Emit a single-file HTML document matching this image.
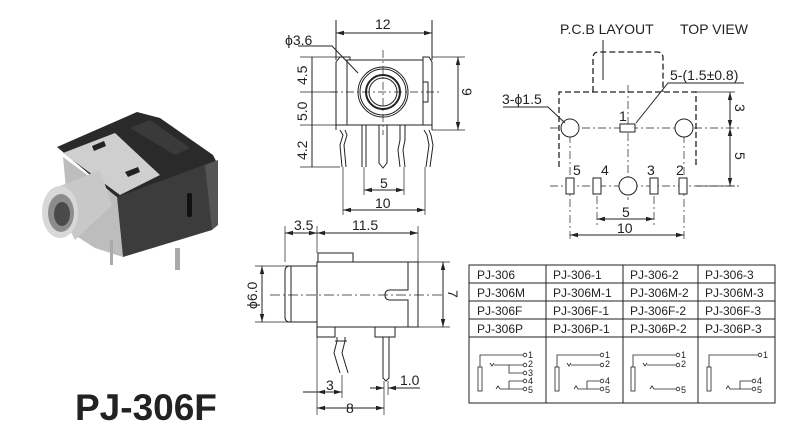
<!DOCTYPE html>
<html><head><meta charset="utf-8"><style>
html,body{margin:0;padding:0;background:#fff;}
svg{display:block;}
text{font-family:"Liberation Sans Narrow","Liberation Sans",sans-serif;fill:#222;}
</style></head><body>
<svg width="800" height="424" viewBox="0 0 800 424" xmlns="http://www.w3.org/2000/svg">
<defs>
<marker id="a" markerWidth="8" markerHeight="6" refX="8" refY="3" orient="auto-start-reverse" markerUnits="userSpaceOnUse"><path d="M0,0.8 L8,3 L0,5.2z" fill="#222"/></marker>
</defs>
<g stroke="#222" fill="none" stroke-width="1">

<!-- PHOTO -->
<g stroke="none">
<polygon points="57,147 137,112 160,118 213,155 218,165 120,200" fill="#2a2a2a"/>
<polygon points="63,153 115,133 160,175 120,195" fill="#cfcfcf"/>
<polygon points="92,146 104,141 106,146 94,151" fill="#222"/>
<polygon points="125,172 138,167 140,172 128,177" fill="#222"/>
<polygon points="130,128 150,120 190,148 175,155" fill="#3a3a3a"/>
<polygon points="63,157 117,197 123,257 95,248 70,232" fill="#bdbdbd"/>
<polygon points="117,197 212,162 212,230 123,257" fill="#3c3c3c"/>
<polygon points="205,165 218,160 218,225 212,230" fill="#555"/>
<rect x="187" y="193" width="5" height="24" rx="2" fill="#111"/>
<polygon points="50,190 100,170 112,205 75,240" fill="#c8c8c8"/>
<ellipse cx="60" cy="212" rx="18" ry="26" fill="#d8d8d8"/>
<ellipse cx="61" cy="213" rx="13" ry="19" fill="#8c8c8c"/>
<ellipse cx="62" cy="214" rx="8" ry="12" fill="#4a4a4a"/>
<rect x="110" y="240" width="3" height="25" fill="#aaa"/>
<rect x="175" y="248" width="5" height="22" fill="#aaa"/>
</g>
<text x="75" y="420" style="font-family:'Liberation Sans',sans-serif;font-weight:bold;font-size:37px" stroke="none">PJ-306F</text>

<!-- FRONT VIEW -->
<line x1="336" y1="20" x2="336" y2="60"/><line x1="432" y1="20" x2="432" y2="60"/>
<line x1="336" y1="33" x2="432" y2="33" marker-start="url(#a)" marker-end="url(#a)"/>
<path d="M336,130 V62 l4,-5 h10 v3 M423,60 v-3 h6 l3,5 V130 M336,125 H347 M423,125 H432"/>
<rect x="347" y="60" width="76" height="65"/>
<path d="M423,82 h5 v20 h-5"/>
<circle cx="383" cy="92" r="25"/><circle cx="383" cy="92" r="23"/>
<circle cx="383" cy="92" r="17" stroke-width="2"/><circle cx="383" cy="92" r="14"/>
<g stroke-dasharray="8,3,2,3" stroke-width="0.7"><line x1="330" y1="92" x2="440" y2="92"/><line x1="383" y1="50" x2="383" y2="135"/></g>
<path d="M340,130 l3,5 l-3,10 l2,22 M345,130 l2,5 l-3,10 l2,22"/>
<path d="M362,125 v42 M366,125 v42 M379,125 v38 l4,5 l4,-5 v-38 M400,125 v15 l-2,10 l2,17 M405,125 v15 l-2,10 l2,17"/>
<path d="M424,130 l3,5 l2,10 l-3,22 M429,130 l2,5 l2,10 l-3,22"/>
<path d="M300,57 H340 M300,92 H336 M300,125 H340 M300,167 H340" stroke-width="0.7"/>
<line x1="312" y1="57" x2="312" y2="167"/>
<path d="M432,57 H465 M432,130 H465" stroke-width="0.7"/>
<line x1="458" y1="57" x2="458" y2="130" marker-start="url(#a)" marker-end="url(#a)"/>
<path d="M364,167 V195 M404,167 V195 M343,167 V215 M425,167 V215" stroke-width="0.7"/>
<line x1="364" y1="190" x2="404" y2="190" marker-start="url(#a)" marker-end="url(#a)"/>
<line x1="343" y1="210" x2="425" y2="210" marker-start="url(#a)" marker-end="url(#a)"/>
<path d="M298,46 H332 L358,73"/>

<!-- TOP VIEW -->
<line x1="603" y1="40" x2="603" y2="80"/>
<g stroke-dasharray="6,3" stroke-width="1.3">
<path d="M593,92 V58 q0,-6 6,-6 H657 q6,0 6,6 V92"/>
<path d="M559,167 V92 H696 V167"/>
</g>
<g stroke-dasharray="8,3,2,3" stroke-width="0.7">
<line x1="550" y1="128" x2="740" y2="128"/><line x1="550" y1="186" x2="740" y2="186"/>
<line x1="628" y1="85" x2="628" y2="200"/><line x1="570" y1="135" x2="570" y2="240"/><line x1="684" y1="135" x2="684" y2="240"/>
<line x1="597" y1="180" x2="597" y2="225"/><line x1="654" y1="180" x2="654" y2="225"/>
</g>
<circle cx="570" cy="128" r="9" fill="#fff"/><circle cx="684" cy="128" r="9" fill="#fff"/><circle cx="628" cy="186" r="9" fill="#fff"/>
<rect x="620" y="124" width="15" height="8" fill="#fff"/>
<rect x="566" y="178" width="8" height="16" fill="#fff"/><rect x="593" y="178" width="8" height="16" fill="#fff"/>
<rect x="650" y="178" width="8" height="16" fill="#fff"/><rect x="679" y="178" width="8" height="16" fill="#fff"/>
<path d="M503,107 H548 L565,123"/>
<path d="M744,83 H668 L636,123"/>
<path d="M696,92 H735 M696,186 H735" stroke-width="0.7"/>
<line x1="730" y1="92" x2="730" y2="128" marker-start="url(#a)" marker-end="url(#a)"/>
<line x1="730" y1="128" x2="730" y2="186" marker-start="url(#a)" marker-end="url(#a)"/>
<line x1="597" y1="219" x2="654" y2="219" marker-start="url(#a)" marker-end="url(#a)"/>
<line x1="570" y1="235" x2="684" y2="235" marker-start="url(#a)" marker-end="url(#a)"/>

<!-- SIDE VIEW -->
<path d="M285,226 V262 M317,226 V253 M418,226 V262" stroke-width="0.7"/>
<line x1="285" y1="233" x2="317" y2="233" marker-start="url(#a)" marker-end="url(#a)"/>
<line x1="317" y1="233" x2="418" y2="233" marker-start="url(#a)" marker-end="url(#a)"/>
<rect x="318" y="253" width="35" height="9"/>
<rect x="317" y="262" width="101" height="65"/>
<path d="M408,262 V290 H390 q-5,0 -5,5 q0,5 5,5 H408 V327"/>
<path d="M317,266 H290 q-5,0 -5,5 V317 q0,5 5,5 H317 M291,266 V322"/>
<line x1="270" y1="295" x2="445" y2="295" stroke-dasharray="10,3,2,3" stroke-width="0.8"/>
<rect x="317" y="327" width="18" height="10"/><rect x="375" y="327" width="20" height="10"/>
<path d="M337,337 v4 l-3,12 l6,20 M345,337 v4 l-3,12 l6,20 M335,341 h12"/>
<path d="M383,337 V378 l3,3 l3,-3 V337"/>
<path d="M255,266 H290 M255,322 H290" stroke-width="0.7"/>
<line x1="262" y1="266" x2="262" y2="322" marker-start="url(#a)" marker-end="url(#a)"/>
<path d="M418,262 H450 M418,327 H450" stroke-width="0.7"/>
<line x1="443" y1="262" x2="443" y2="327" marker-start="url(#a)" marker-end="url(#a)"/>
<path d="M317,337 V415 M342,375 V398 M384,381 V415 M388,381 V395" stroke-width="0.7"/>
<line x1="303" y1="392" x2="342" y2="392" marker-end="url(#a)"/><line x1="317" y1="392" x2="342" y2="392" marker-start="url(#a)"/>
<line x1="317" y1="408" x2="384" y2="408" marker-start="url(#a)" marker-end="url(#a)"/>
<line x1="370" y1="388" x2="384" y2="388" marker-end="url(#a)"/><line x1="388" y1="388" x2="420" y2="388" marker-start="url(#a)"/>

<!-- TABLE -->
<rect x="469" y="265" width="306" height="138"/>
<path d="M469,283 H775 M469,301 H775 M469,319 H775 M469,337 H775 M546,265 V403 M623,265 V403 M698,265 V403"/>
<g stroke-width="0.8">
<rect x="478" y="367" width="4" height="24"/>
<path d="M480,367 V355 H523 M490,363 l2,3 l2,-3 M494,365 H523 M509,365 V373 H523 M509,381 V389 M509,381 H523 M496,389 l2,-3 l2,3 H523"/>
<circle cx="525" cy="355" r="1.8"/><circle cx="525" cy="365" r="1.8"/><circle cx="525" cy="373" r="1.8"/><circle cx="525" cy="381" r="1.8"/><circle cx="525" cy="389" r="1.8"/>
<rect x="555" y="367" width="4" height="24"/>
<path d="M557,367 V355 H600 M567,363 l2,3 l2,-3 M571,365 H600 M587,381 V389 M587,381 H600 M574,389 l2,-3 l2,3 H600"/>
<circle cx="602" cy="355" r="1.8"/><circle cx="602" cy="365" r="1.8"/><circle cx="602" cy="381" r="1.8"/><circle cx="602" cy="389" r="1.8"/>
<rect x="631" y="367" width="4" height="24"/>
<path d="M633,367 V355 H676 M643,363 l2,3 l2,-3 M647,365 H676 M650,389 l2,-3 l2,3 H676"/>
<circle cx="678" cy="355" r="1.8"/><circle cx="678" cy="365" r="1.8"/><circle cx="678" cy="389" r="1.8"/>
<rect x="707" y="367" width="4" height="24"/>
<path d="M709,367 V355 H758 M740,381 V389 M740,381 H752 M726,389 l2,-3 l2,3 H752"/>
<circle cx="760" cy="355" r="1.8"/><circle cx="754" cy="381" r="1.8"/><circle cx="754" cy="389" r="1.8"/>
</g>
</g>

<g stroke="none" font-size="14">
<text x="375" y="29">12</text>
<text x="285" y="45">ϕ3.6</text>
<text transform="translate(307,85) rotate(-90)">4.5</text>
<text transform="translate(307,121) rotate(-90)">5.0</text>
<text transform="translate(307,160) rotate(-90)">4.2</text>
<text transform="translate(462,88) rotate(90)">9</text>
<text x="380" y="188">5</text>
<text x="375" y="208">10</text>
<text x="560" y="34">P.C.B LAYOUT</text>
<text x="680" y="34">TOP VIEW</text>
<text x="670" y="80">5-(1.5±0.8)</text>
<text x="502" y="104">3-ϕ1.5</text>
<text x="619" y="121">1</text>
<text x="573" y="175">5</text><text x="601" y="175">4</text><text x="647" y="175">3</text><text x="676" y="175">2</text>
<text transform="translate(735,104) rotate(90)">3</text>
<text transform="translate(735,152) rotate(90)">5</text>
<text x="622" y="217">5</text>
<text x="617" y="233">10</text>
<text x="294" y="230">3.5</text>
<text x="352" y="230">11.5</text>
<text transform="translate(257,309) rotate(-90)">ϕ6.0</text>
<text transform="translate(448,290) rotate(90)">7</text>
<text x="326" y="390">3</text>
<text x="346" y="413">8</text>
<text x="400" y="385">1.0</text>
</g>
<g stroke="none" font-size="12">
<text x="477" y="279">PJ-306</text><text x="553" y="279">PJ-306-1</text><text x="630" y="279">PJ-306-2</text><text x="705" y="279">PJ-306-3</text>
<text x="477" y="297">PJ-306M</text><text x="553" y="297">PJ-306M-1</text><text x="630" y="297">PJ-306M-2</text><text x="705" y="297">PJ-306M-3</text>
<text x="477" y="315">PJ-306F</text><text x="553" y="315">PJ-306F-1</text><text x="630" y="315">PJ-306F-2</text><text x="705" y="315">PJ-306F-3</text>
<text x="477" y="333">PJ-306P</text><text x="553" y="333">PJ-306P-1</text><text x="630" y="333">PJ-306P-2</text><text x="705" y="333">PJ-306P-3</text>
</g>
<g stroke="none" font-size="9">
<text x="528" y="358">1</text><text x="528" y="367">2</text><text x="528" y="376">3</text><text x="528" y="384">4</text><text x="528" y="393">5</text>
<text x="605" y="358">1</text><text x="605" y="367">2</text><text x="605" y="384">4</text><text x="605" y="393">5</text>
<text x="681" y="358">1</text><text x="681" y="367">2</text><text x="681" y="393">5</text>
<text x="763" y="358">1</text><text x="757" y="384">4</text><text x="757" y="393">5</text>
</g>
</svg>
</body></html>
